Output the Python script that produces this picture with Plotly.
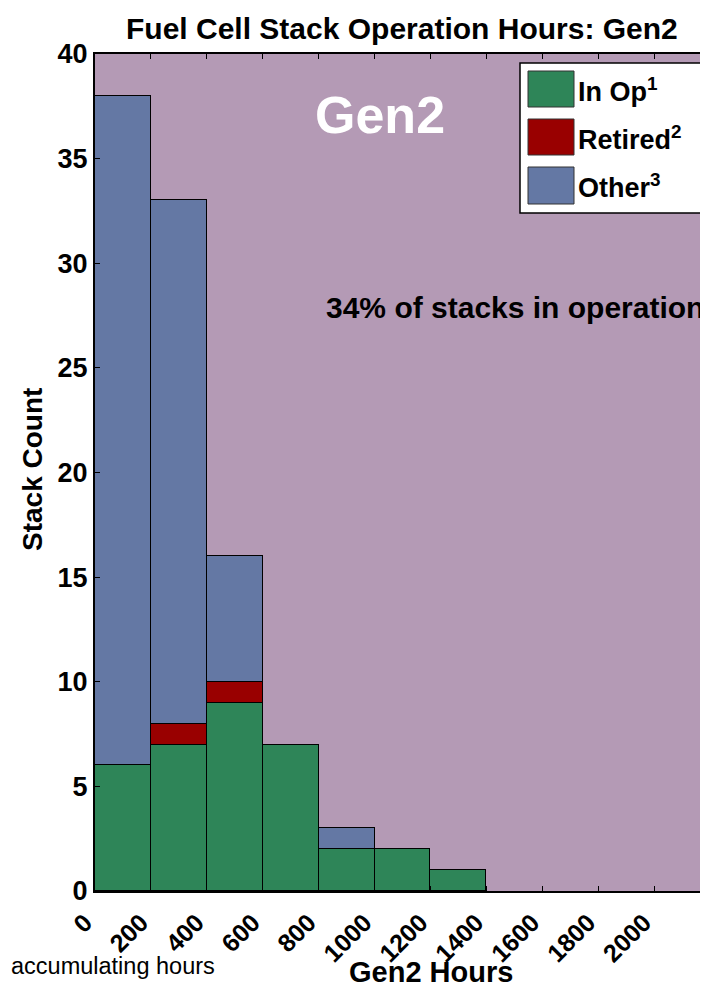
import plotly.graph_objects as go

# Data
bin_starts = [0, 200, 400, 600, 800, 1000, 1200]
bin_width = 200
in_op = [6, 7, 9, 7, 2, 2, 1]
retired = [0, 1, 1, 0, 0, 0, 0]
other = [32, 25, 6, 0, 1, 0, 0]
x_ticks = [0, 200, 400, 600, 800, 1000, 1200, 1400, 1600, 1800, 2000]
y_ticks = [0, 5, 10, 15, 20, 25, 30, 35, 40]

series = [
    ("In Op", in_op, "#2E8558"),
    ("Retired", retired, "#990000"),
    ("Other", other, "#6478A4"),
]

# The page body has an 8px margin; screen coords = figure coords + 8
OFF = 8
PLOT_L, PLOT_R, PLOT_T, PLOT_B = 95, 710, 54, 891   # screen pixels
W, H = 710, 979
L = PLOT_L - OFF
T = PLOT_T - OFF
R = OFF + W - PLOT_R
B = OFF + H - PLOT_B
PW = PLOT_R - PLOT_L
PH = PLOT_B - PLOT_T


def px(xpix):
    return (xpix - PLOT_L) / PW


def py(ypix):
    return (PLOT_B - ypix) / PH


FONT = "Liberation Sans, Arial, sans-serif"
centers = [s + bin_width / 2 for s in bin_starts]

fig = go.Figure()
for name, vals, col in series:
    fig.add_trace(go.Bar(
        x=centers, y=vals, width=bin_width, name=name,
        marker=dict(color=col, line=dict(color="black", width=1)),
        showlegend=False,
    ))

fig.update_layout(
    width=W, height=H,
    margin=dict(l=L, r=R, t=T, b=B, autoexpand=False),
    barmode="stack", bargap=0,
    paper_bgcolor="white", plot_bgcolor="#B49AB5",
    font=dict(family=FONT, color="black", size=14),
    xaxis=dict(range=[0, 2200], tickvals=x_ticks, ticktext=[str(v) for v in x_ticks],
               tickangle=-45, ticks="inside", ticklen=5, tickcolor="black",
               showline=True, linecolor="black", linewidth=2, mirror="ticks",
               showgrid=False, zeroline=False, automargin=False,
               ticklabelstandoff=5, ticklabelshift=-10,
               tickfont=dict(size=25, family=FONT, weight="bold")),
    yaxis=dict(range=[0, 40], tickvals=y_ticks, ticks="inside", ticklen=5,
               tickcolor="black", showline=True, linecolor="black", linewidth=2,
               mirror="ticks", showgrid=False, zeroline=False, automargin=False,
               tickfont=dict(size=27, family=FONT, weight="bold")),
)

ann = []
ann.append(dict(text="<b>Fuel Cell Stack Operation Hours: Gen2</b>", x=px(402), y=py(28),
                xref="paper", yref="paper", showarrow=False, xanchor="center", yanchor="middle",
                font=dict(size=30)))
ann.append(dict(text="<b>Stack Count</b>", x=px(32), y=py(470), textangle=-90,
                xref="paper", yref="paper", showarrow=False, xanchor="center", yanchor="middle",
                font=dict(size=28)))
ann.append(dict(text="<b>Gen2 Hours</b>", x=px(431), y=py(972),
                xref="paper", yref="paper", showarrow=False, xanchor="center", yanchor="middle",
                font=dict(size=29)))
ann.append(dict(text="accumulating hours", x=px(9), y=py(966),
                xref="paper", yref="paper", showarrow=False, xanchor="left", yanchor="middle",
                font=dict(size=23.5)))
ann.append(dict(text="<b>Gen2</b>", x=px(380), y=py(115),
                xref="paper", yref="paper", showarrow=False, xanchor="center", yanchor="middle",
                font=dict(size=52, color="white")))
ann.append(dict(text="<b>34% of stacks in operation</b>", x=px(706), y=py(307),
                xref="paper", yref="paper", showarrow=False, xanchor="right", yanchor="middle",
                font=dict(size=30)))

shapes = [dict(type="rect", xref="paper", yref="paper", x0=px(520), x1=px(703), y0=py(213), y1=py(63),
               fillcolor="white", line=dict(color="black", width=1.5), layer="above")]
rows = [(71, 107, "In Op<sup>1</sup>"), (119, 155, "Retired<sup>2</sup>"), (167, 204, "Other<sup>3</sup>")]
for (y0, y1, label), (_, _, col) in zip(rows, series):
    shapes.append(dict(type="rect", xref="paper", yref="paper", x0=px(528), x1=px(574),
                       y0=py(y1), y1=py(y0), fillcolor=col, line=dict(color="#333333", width=1),
                       layer="above"))
    ann.append(dict(text="<b>" + label + "</b>", x=px(576), y=py((y0 + y1) / 2 + 1),
                    xref="paper", yref="paper", showarrow=False, xanchor="left", yanchor="middle",
                    font=dict(size=27)))

fig.update_layout(annotations=ann, shapes=shapes)
fig.write_html("out.html")
